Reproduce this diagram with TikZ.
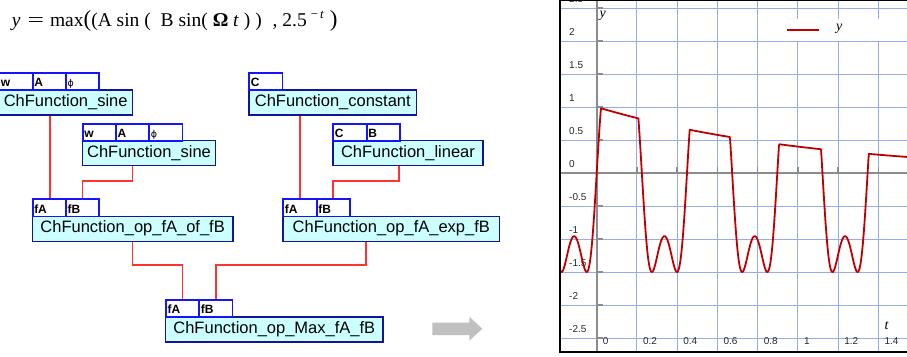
\documentclass[tikz,border=0pt]{standalone}
\usepackage{fontspec}
\usepackage{graphicx}
\setmainfont{Liberation Sans}
\newfontfamily\serifface{Liberation Serif}
\newfontfamily\phiface{DejaVu Sans}
\usetikzlibrary{calc}
\definecolor{boxfill}{RGB}{204,255,255}
\definecolor{boxdraw}{RGB}{20,20,150}
\definecolor{portdraw}{RGB}{20,20,255}
\definecolor{wirecol}{RGB}{255,50,50}
\definecolor{gridcol}{RGB}{150,172,238}
\definecolor{axiscol}{RGB}{140,140,140}
\definecolor{curvecol}{RGB}{192,0,0}
\definecolor{arrowgray}{RGB}{192,192,192}
\definecolor{labelcol}{RGB}{40,40,40}
\begin{document}
\begin{tikzpicture}[x=1pt,y=-1pt,
  mainbox/.style={draw=boxdraw, fill=boxfill, line width=1.3pt, anchor=north west,
    minimum height=25pt, inner sep=0pt, text height=12pt, text depth=3.6pt,
    font=\fontsize{16.5}{18}\selectfont},
  portbox/.style={draw=portdraw, fill=white, line width=1.8pt, anchor=north west,
    minimum width=33.3pt, minimum height=17.3pt, inner sep=0pt, text width=30pt,
    align=left, text height=10.5pt, text depth=0pt,
    font=\fontsize{12}{13}\selectfont\bfseries},
  wire/.style={draw=wirecol, line width=1.6pt},
  gridline/.style={draw=gridcol, line width=1pt},
  axisline/.style={draw=axiscol, line width=1.6pt},
  curve/.style={draw=curvecol, line width=1.8pt, line join=round},
  ticklabel/.style={inner sep=0pt, text=labelcol, font=\fontsize{10}{11}\selectfont},
  axlabel/.style={inner sep=0pt, font=\serifface\itshape\fontsize{14}{14}\selectfont}
]
\useasboundingbox (0,0) rectangle (907,356);
\fill[white] (0,0) rectangle (907,356);

% formula
\node (formula) [anchor=base west, inner sep=0pt, font=\serifface\fontsize{19.5}{21}\selectfont] at (11.7,26.5)
 {\textit{y}\hspace{7pt}\scalebox{1.5}[1]{=}\hspace{6pt}max{\fontsize{23}{23}\selectfont(}(A sin ( \hspace{5pt}B sin( \textbf{Ω} \textit{t} ) ) \hspace{6pt}, 2.5\hspace{4pt}\raisebox{8.5pt}{\fontsize{13}{13}\selectfont −\hspace{2pt}\textit{t}}\hspace{6pt}{\fontsize{23}{23}\selectfont)}};

% main boxes
\node[mainbox, minimum width=133.3pt] (sineA) at (-1.6,89.3) {ChFunction\_sine};
\node[mainbox, minimum width=167.7pt] (const) at (248.3,89.3) {ChFunction\_constant};
\node[mainbox, minimum width=133.3pt] (sineB) at (81.7,140) {ChFunction\_sine};
\node[mainbox, minimum width=150pt] (lin) at (332.3,140) {ChFunction\_linear};
\node[mainbox, minimum width=200.6pt] (ofB) at (31.7,215.6) {ChFunction\_op\_fA\_of\_fB};
\node[mainbox, minimum width=216.7pt] (exp) at (282.3,215.6) {ChFunction\_op\_fA\_exp\_fB};
\node[mainbox, minimum width=217.3pt] (max) at (165,316.3) {ChFunction\_op\_Max\_fA\_fB};

% ports
\node[portbox] (sineAw) at (-1.6,72) {w};
\node[portbox] (sineAA) at (31.7,72) {A};
\node[portbox] (sineAphi) at (65,72) {\phiface\mdseries\fontsize{9.5}{10}\selectfont ϕ};
\node[portbox] (constC) at (248.3,72) {C};
\node[portbox] (sineBw) at (81.7,122.7) {w};
\node[portbox] (sineBA) at (115,122.7) {A};
\node[portbox] (sineBphi) at (148.3,122.7) {\phiface\mdseries\fontsize{9.5}{10}\selectfont ϕ};
\node[portbox] (linC) at (332.3,122.7) {C};
\node[portbox] (linB) at (365.7,122.7) {B};
\node[portbox] (ofBfA) at (31.7,198.3) {fA};
\node[portbox] (ofBfB) at (65,198.3) {fB};
\node[portbox] (expfA) at (282.3,198.3) {fA};
\node[portbox] (expfB) at (315.7,198.3) {fB};
\node[portbox] (maxfA) at (165,299) {fA};
\node[portbox] (maxfB) at (198.3,299) {fB};

% wires
\draw[wire] ([xshift=0.7pt]ofBfA.north |- sineA.south) -- ([xshift=0.7pt]ofBfA.north);
\draw[wire] ([xshift=50.6pt]sineB.south west) |- ([yshift=17.3pt]ofBfB.north) -- (ofBfB.north);
\draw[wire] (expfA.north |- const.south) -- (expfA.north);
\draw[wire] ([xshift=66.7pt]lin.south west) |- ([yshift=17.3pt]expfB.north) -- (expfB.north);
\draw[wire] ([xshift=100.6pt]ofB.south west) |- ([yshift=34pt]maxfA.north) -- (maxfA.north);
\draw[wire] ([xshift=83.4pt]exp.south west) |- ([yshift=34pt]maxfB.north) -- (maxfB.north);

% gray arrow
\fill[arrowgray] (432.3,322.7) -- (469.3,322.7) -- (469.3,316.7) -- (482.3,328.8)
  -- (469.3,340.7) -- (469.3,335) -- (432.3,335) -- cycle;

% plot
\begin{scope}
\clip (560,0) rectangle (907,352.7);
\foreach \t in {-0.2,0,0.2,0.4,0.6,0.8,1,1.2,1.4,1.6}
  \draw[gridline] ({596.7+201.2*\t},0) -- ({596.7+201.2*\t},352.7);
\foreach \v in {-2.5,-2,-1.5,-1,-0.5,0,0.5,1,1.5,2,2.5}
  \draw[gridline] (560,{173-66*\v}) -- (907,{173-66*\v});
\draw[axisline] (596.7,0) -- (596.7,352.7);
\draw[axisline] (560,173) -- (907,173);
\foreach \v in {-2.5,-2,-1.5,-1,-0.5,0.5,1,1.5,2,2.5}
  \draw[axisline] (596.7,{173-66*\v}) -- (603,{173-66*\v});
\foreach \t in {0.2,0.4,0.6,0.8,1,1.2,1.4}
  \draw[axisline] ({596.7+201.2*\t},166.7) -- ({596.7+201.2*\t},173);
\foreach \v/\l [count=\i] in {2.5/2.5,2/2,1.5/1.5,1/1,0.5/0.5,0/0,-0.5/-0.5,-1/-1,-1.5/-1.5,-2/-2,-2.5/-2.5}
  \node[ticklabel, anchor=base west] (ylab\i) at (569,{173-66*\v-5.5}) {\l};
\foreach \t [count=\i] in {0,0.2,0.4,0.6,0.8,1,1.2,1.4}
  \node[ticklabel, anchor=base west] (xlab\i) at ({596.7+201.2*\t+6},344.5) {\t};
\draw[curve] plot[domain=-0.19:1.56, samples=800]
  ({596.7+201.2*\x},{173-66*min(1.5*sin(deg(2.45*sin(deg(14*\x)))),exp(-0.9163*\x))});
% legend
\fill[white] (772,19) rectangle (907,40.6);
\draw[curve] (787.3,29.7) -- (819.3,29.7);
\node[axlabel, anchor=base west] (legy) at (836,30.5) {y};
\node[axlabel, anchor=base west] (ylabel) at (599.5,17.5) {y};
\node[axlabel, anchor=base west] (tlabel) at (884.5,329) {t};
\end{scope}
\draw[black, line width=1.3pt] (907,0.6) -- (560,0.6) -- (560,352) -- (907,352);
\end{tikzpicture}
\end{document}
